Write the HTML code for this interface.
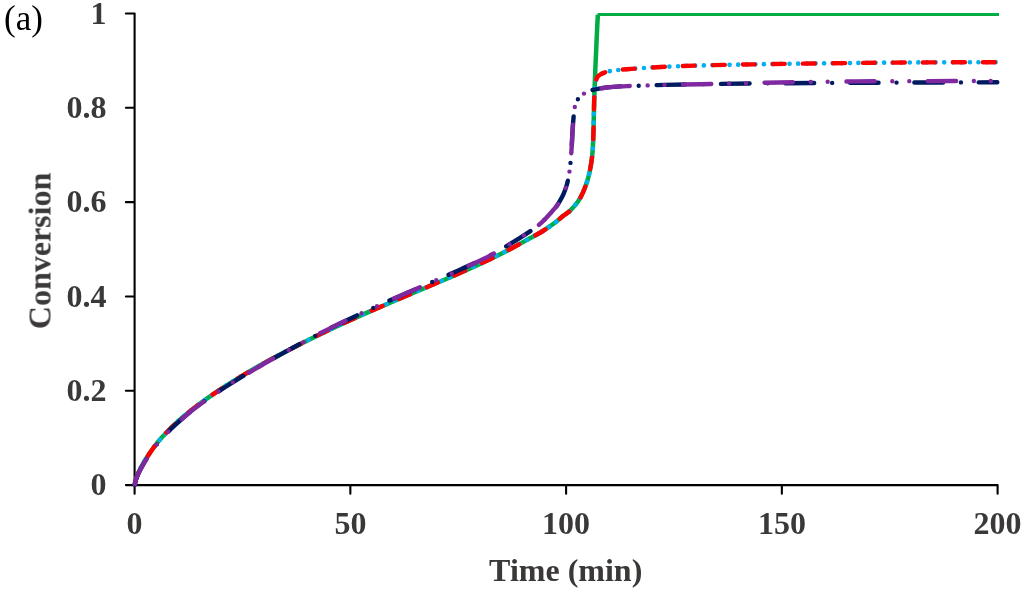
<!DOCTYPE html>
<html><head><meta charset="utf-8"><style>
html,body{margin:0;padding:0;background:#fff;}
body{width:1024px;height:590px;overflow:hidden;}
svg{display:block;}
text{font-family:"Liberation Serif",serif;}
.lab{will-change:transform;font-weight:bold;font-size:32px;fill:#3b3838;}
</style></head><body>
<svg width="1024" height="590" viewBox="0 0 1024 590">
<rect width="1024" height="590" fill="#fff"/>
<text x="4" y="29.5" font-size="35" fill="#000" style="will-change:transform">(a)</text>
<g class="lab"><text x="106.5" y="495.1" text-anchor="end">0</text><text x="106.5" y="400.8" text-anchor="end">0.2</text><text x="106.5" y="306.5" text-anchor="end">0.4</text><text x="106.5" y="212.1" text-anchor="end">0.6</text><text x="106.5" y="117.8" text-anchor="end">0.8</text><text x="106.5" y="23.5" text-anchor="end">1</text><text x="134.6" y="534" text-anchor="middle">0</text><text x="350.4" y="534" text-anchor="middle">50</text><text x="566.1" y="534" text-anchor="middle">100</text><text x="781.9" y="534" text-anchor="middle">150</text><text x="997.6" y="534" text-anchor="middle">200</text>
<text x="565.7" y="581.4" text-anchor="middle">Time (min)</text>
<text transform="translate(50.5,250.9) rotate(-90)" text-anchor="middle">Conversion</text>
</g>
<path d="M125.9,485.10H134.6M125.9,390.78H134.6M125.9,296.46H134.6M125.9,202.14H134.6M125.9,107.82H134.6M125.9,13.50H134.6M134.60,485.1V493.7M350.35,485.1V493.7M566.10,485.1V493.7M781.85,485.1V493.7M997.60,485.1V493.7M134.6,13.5V485.1H997.6" fill="none" stroke="#000" stroke-width="2.1" stroke-linejoin="round" stroke-linecap="round"/>
<g fill="none" stroke-linejoin="round">
<path d="M134.80,485.10 C134.87,484.53 134.91,483.94 135.00,483.40 C135.08,482.89 135.19,482.42 135.30,481.93 C135.42,481.42 135.55,480.92 135.70,480.37 C135.87,479.75 136.07,479.10 136.30,478.41 C136.56,477.62 136.86,476.77 137.20,475.89 C137.58,474.89 138.02,473.82 138.50,472.73 C139.02,471.56 139.57,470.37 140.20,469.11 C140.89,467.71 141.66,466.25 142.50,464.74 C143.42,463.10 144.44,461.35 145.50,459.64 C146.60,457.85 147.78,456.06 149.00,454.24 C150.28,452.33 151.65,450.32 153.00,448.46 C154.31,446.65 155.57,444.98 157.00,443.20 C158.55,441.28 160.23,439.32 162.00,437.35 C163.89,435.24 165.90,433.10 168.00,430.96 C170.22,428.71 172.56,426.43 175.00,424.16 C177.55,421.79 180.23,419.41 183.00,417.04 C185.89,414.58 188.90,412.12 192.00,409.67 C195.22,407.14 198.57,404.61 202.00,402.10 C205.56,399.50 209.23,396.92 213.00,394.35 C216.89,391.69 220.90,389.04 225.00,386.41 C229.23,383.70 233.57,381.00 238.00,378.31 C242.56,375.53 247.24,372.77 252.00,370.02 C256.90,367.20 261.91,364.38 267.00,361.57 C272.23,358.69 277.57,355.82 283.00,352.96 C288.57,350.02 294.24,347.10 300.00,344.19 C305.90,341.22 311.91,338.25 318.00,335.30 C324.24,332.28 330.57,329.28 337.00,326.29 C343.57,323.24 350.24,320.20 357.00,317.17 C363.90,314.08 370.91,311.01 378.00,307.93 C385.24,304.79 392.66,301.63 400.00,298.51 C407.33,295.39 414.59,292.36 422.00,289.22 C429.58,286.01 437.34,282.76 445.00,279.46 C452.68,276.15 460.44,272.80 468.00,269.39 C475.43,266.04 482.87,262.64 490.00,259.20 C496.85,255.90 503.54,252.58 510.00,249.20 C516.19,245.96 522.55,242.34 528.00,239.36 C532.55,236.87 536.81,234.70 540.50,232.50 C543.56,230.68 546.12,228.96 548.70,227.20 C551.09,225.56 553.19,224.09 555.50,222.30 C558.04,220.33 560.82,217.75 563.30,215.80 C565.46,214.10 567.58,212.90 569.50,211.20 C571.42,209.50 573.23,207.43 574.80,205.60 C576.19,203.97 577.38,202.47 578.50,200.80 C579.61,199.14 580.57,197.43 581.50,195.60 C582.48,193.67 583.31,191.72 584.20,189.50 C585.24,186.92 586.39,183.97 587.30,181.00 C588.27,177.83 589.09,174.39 589.80,171.00 C590.52,167.56 591.12,164.01 591.60,160.50 C592.08,157.01 592.41,154.06 592.70,150.00 C593.10,144.40 593.27,137.34 593.50,130.00 C593.78,121.01 593.90,110.00 594.20,100.00 C594.50,90.00 594.92,79.54 595.30,70.00 C595.65,61.29 596.05,52.87 596.40,45.00 C596.71,37.96 597.01,30.59 597.30,25.00 C597.51,20.97 597.70,18.07 597.90,14.60" stroke="#00AD45" stroke-width="4.5"/>
<path d="M597.6,14.5H999" stroke="#00AD45" stroke-width="3.0"/>
<path d="M134.80,485.10 C134.87,484.53 134.91,483.94 135.00,483.40 C135.08,482.89 135.19,482.42 135.30,481.93 C135.42,481.42 135.55,480.92 135.70,480.37 C135.87,479.75 136.07,479.10 136.30,478.41 C136.56,477.62 136.86,476.77 137.20,475.89 C137.58,474.89 138.02,473.82 138.50,472.73 C139.02,471.56 139.57,470.37 140.20,469.11 C140.89,467.71 141.66,466.25 142.50,464.74 C143.42,463.10 144.44,461.35 145.50,459.64 C146.60,457.85 147.78,456.06 149.00,454.24 C150.28,452.33 151.65,450.32 153.00,448.46 C154.31,446.65 155.57,444.98 157.00,443.20 C158.55,441.28 160.23,439.32 162.00,437.35 C163.89,435.24 165.90,433.10 168.00,430.96 C170.22,428.71 172.56,426.43 175.00,424.16 C177.55,421.79 180.23,419.41 183.00,417.04 C185.89,414.58 188.90,412.12 192.00,409.67 C195.22,407.14 198.57,404.61 202.00,402.10 C205.56,399.50 209.23,396.92 213.00,394.35 C216.89,391.69 220.90,389.04 225.00,386.41 C229.23,383.70 233.57,381.00 238.00,378.31 C242.56,375.53 247.24,372.77 252.00,370.02 C256.90,367.20 261.91,364.38 267.00,361.57 C272.23,358.69 277.57,355.82 283.00,352.96 C288.57,350.02 294.24,347.10 300.00,344.19 C305.90,341.22 311.91,338.25 318.00,335.30 C324.24,332.28 330.57,329.28 337.00,326.29 C343.57,323.24 350.24,320.20 357.00,317.17 C363.90,314.08 370.91,311.01 378.00,307.93 C385.24,304.79 392.66,301.63 400.00,298.51 C407.33,295.39 414.59,292.36 422.00,289.22 C429.58,286.01 437.34,282.76 445.00,279.46 C452.68,276.15 460.44,272.80 468.00,269.39 C475.43,266.04 482.87,262.64 490.00,259.20 C496.85,255.90 503.54,252.58 510.00,249.20 C516.19,245.96 522.55,242.34 528.00,239.36 C532.55,236.87 536.81,234.70 540.50,232.50 C543.56,230.68 546.12,228.96 548.70,227.20 C551.09,225.56 553.19,224.09 555.50,222.30 C558.04,220.33 560.82,217.75 563.30,215.80 C565.46,214.10 567.58,212.90 569.50,211.20 C571.42,209.50 573.23,207.43 574.80,205.60 C576.19,203.97 577.38,202.47 578.50,200.80 C579.61,199.14 580.57,197.43 581.50,195.60 C582.48,193.67 583.31,191.72 584.20,189.50 C585.24,186.92 586.39,183.97 587.30,181.00 C588.27,177.83 589.09,174.39 589.80,171.00 C590.52,167.56 591.12,164.01 591.60,160.50 C592.08,157.01 592.41,154.06 592.70,150.00 C593.10,144.40 593.27,137.34 593.50,130.00 C593.78,121.01 593.95,107.94 594.20,100.00 C594.36,94.77 594.36,90.41 594.70,87.00 C594.92,84.77 595.11,83.21 595.60,81.50 C596.06,79.90 596.61,78.23 597.50,77.00 C598.32,75.87 599.39,75.06 600.60,74.30 C601.95,73.46 603.73,72.82 605.30,72.30 C606.80,71.80 608.06,71.54 609.80,71.20 C612.16,70.74 615.16,70.35 618.20,70.00 C621.79,69.59 625.90,69.32 630.00,69.00 C634.47,68.65 638.86,68.33 644.00,68.00 C650.29,67.60 657.11,67.17 665.00,66.80 C675.18,66.32 686.88,65.88 700.00,65.50 C716.84,65.01 735.95,64.67 757.70,64.30 C785.98,63.82 825.16,63.33 855.30,63.00 C881.31,62.72 904.03,62.53 928.00,62.40 C951.45,62.27 974.40,62.27 997.60,62.20" stroke="#00B0F0" stroke-width="4.7" stroke-linecap="round" stroke-dasharray="0 8.578" stroke-dashoffset="7.6"/>
<path d="M134.80,485.10 C134.87,484.53 134.91,483.94 135.00,483.40 C135.08,482.89 135.19,482.42 135.30,481.93 C135.42,481.42 135.55,480.92 135.70,480.37 C135.87,479.75 136.07,479.10 136.30,478.41 C136.56,477.62 136.86,476.77 137.20,475.89 C137.58,474.89 138.02,473.82 138.50,472.73 C139.02,471.56 139.57,470.37 140.20,469.11 C140.89,467.71 141.66,466.25 142.50,464.74 C143.42,463.10 144.44,461.35 145.50,459.64 C146.60,457.85 147.78,456.06 149.00,454.24 C150.28,452.33 151.65,450.32 153.00,448.46 C154.31,446.65 155.57,444.98 157.00,443.20 C158.55,441.28 160.23,439.32 162.00,437.35 C163.89,435.24 165.90,433.10 168.00,430.96 C170.22,428.71 172.56,426.43 175.00,424.16 C177.55,421.79 180.23,419.41 183.00,417.04 C185.89,414.58 188.90,412.12 192.00,409.67 C195.22,407.14 198.57,404.61 202.00,402.10 C205.56,399.50 209.23,396.92 213.00,394.35 C216.89,391.69 220.90,389.04 225.00,386.41 C229.23,383.70 233.57,381.00 238.00,378.31 C242.56,375.53 247.24,372.77 252.00,370.02 C256.90,367.20 261.91,364.38 267.00,361.57 C272.23,358.69 277.57,355.82 283.00,352.96 C288.57,350.02 294.24,347.10 300.00,344.19 C305.90,341.22 311.91,338.25 318.00,335.30 C324.24,332.28 330.57,329.28 337.00,326.29 C343.57,323.24 350.24,320.20 357.00,317.17 C363.90,314.08 370.91,311.01 378.00,307.93 C385.24,304.79 392.66,301.63 400.00,298.51 C407.33,295.39 414.59,292.36 422.00,289.22 C429.58,286.01 437.34,282.76 445.00,279.46 C452.68,276.15 460.44,272.80 468.00,269.39 C475.43,266.04 482.87,262.64 490.00,259.20 C496.85,255.90 503.54,252.58 510.00,249.20 C516.19,245.96 522.55,242.34 528.00,239.36 C532.55,236.87 536.81,234.70 540.50,232.50 C543.56,230.68 546.12,228.96 548.70,227.20 C551.09,225.56 553.19,224.09 555.50,222.30 C558.04,220.33 560.82,217.75 563.30,215.80 C565.46,214.10 567.58,212.90 569.50,211.20 C571.42,209.50 573.23,207.43 574.80,205.60 C576.19,203.97 577.38,202.47 578.50,200.80 C579.61,199.14 580.57,197.43 581.50,195.60 C582.48,193.67 583.31,191.72 584.20,189.50 C585.24,186.92 586.39,183.97 587.30,181.00 C588.27,177.83 589.09,174.39 589.80,171.00 C590.52,167.56 591.12,164.01 591.60,160.50 C592.08,157.01 592.41,154.06 592.70,150.00 C593.10,144.40 593.27,137.34 593.50,130.00 C593.78,121.01 593.95,107.94 594.20,100.00 C594.36,94.77 594.36,90.41 594.70,87.00 C594.92,84.77 595.11,83.21 595.60,81.50 C596.06,79.90 596.61,78.23 597.50,77.00 C598.32,75.87 599.39,75.06 600.60,74.30 C601.95,73.46 603.73,72.82 605.30,72.30 C606.80,71.80 608.06,71.54 609.80,71.20 C612.16,70.74 615.16,70.35 618.20,70.00 C621.79,69.59 625.90,69.32 630.00,69.00 C634.47,68.65 638.86,68.33 644.00,68.00 C650.29,67.60 657.11,67.17 665.00,66.80 C675.18,66.32 686.88,65.88 700.00,65.50 C716.84,65.01 735.95,64.67 757.70,64.30 C785.98,63.82 825.16,63.33 855.30,63.00 C881.31,62.72 904.03,62.53 928.00,62.40 C951.45,62.27 974.40,62.27 997.60,62.20" stroke="#FF0000" stroke-width="4.4" stroke-linecap="round" stroke-dasharray="11.9 18.1" stroke-dashoffset="28.02"/>
<path d="M134.80,485.10 C134.87,484.54 134.91,483.96 135.00,483.43 C135.08,482.93 135.19,482.49 135.30,482.01 C135.42,481.51 135.55,481.03 135.70,480.51 C135.87,479.92 136.07,479.30 136.30,478.64 C136.56,477.89 136.86,477.09 137.20,476.26 C137.58,475.32 138.02,474.32 138.50,473.30 C139.02,472.21 139.58,471.11 140.20,469.91 C140.90,468.56 141.66,467.08 142.50,465.59 C143.42,463.97 144.44,462.24 145.50,460.55 C146.60,458.79 147.78,457.02 149.00,455.22 C150.28,453.33 151.65,451.31 153.00,449.45 C154.31,447.64 155.57,445.97 157.00,444.19 C158.55,442.27 160.23,440.30 162.00,438.32 C163.89,436.22 165.90,434.07 168.00,431.93 C170.22,429.66 172.56,427.38 175.00,425.11 C177.55,422.73 180.23,420.34 183.00,417.97 C185.89,415.50 188.90,413.04 192.00,410.59 C195.22,408.05 198.57,405.52 202.00,403.00 C205.56,400.39 209.23,397.80 213.00,395.22 C216.89,392.55 220.90,389.90 225.00,387.26 C229.23,384.54 233.57,381.83 238.00,379.13 C242.57,376.34 247.25,373.59 252.00,370.78 C256.91,367.89 261.91,364.94 267.00,362.03 C272.23,359.04 277.58,356.08 283.00,353.10 C288.57,350.03 294.24,346.95 300.00,343.88 C305.90,340.72 311.90,337.54 318.00,334.41 C324.23,331.21 330.57,328.02 337.00,324.88 C343.56,321.67 350.24,318.54 357.00,315.38 C363.90,312.16 370.91,308.96 378.00,305.75 C385.24,302.47 392.65,299.13 400.00,295.91 C407.32,292.71 414.59,289.68 422.00,286.47 C429.59,283.20 437.34,279.85 445.00,276.46 C452.68,273.05 460.44,269.59 468.00,266.08 C475.43,262.64 482.20,259.76 490.00,255.60 C499.33,250.62 512.60,242.39 520.00,237.80 C524.43,235.05 527.36,233.12 530.50,231.00 C533.12,229.23 535.27,227.88 537.60,226.00 C540.11,223.98 542.64,221.58 545.00,219.20 C547.37,216.81 549.75,214.00 551.80,211.70 C553.52,209.76 555.12,208.15 556.50,206.30 C557.80,204.55 558.78,202.85 559.90,200.90 C561.15,198.72 562.50,196.30 563.60,193.80 C564.75,191.18 565.77,188.31 566.60,185.50 C567.43,182.71 568.04,179.92 568.60,177.00 C569.19,173.93 569.61,170.75 570.00,167.50 C570.41,164.09 570.71,160.62 571.00,157.00 C571.31,153.14 571.55,149.22 571.80,145.00 C572.08,140.28 572.30,134.72 572.60,130.00 C572.87,125.78 573.15,121.81 573.50,118.00 C573.82,114.51 573.99,110.95 574.60,108.00 C575.10,105.57 575.66,103.46 576.60,101.50 C577.49,99.65 578.64,97.89 580.00,96.50 C581.30,95.18 582.84,94.25 584.50,93.30 C586.31,92.26 588.28,91.34 590.50,90.60 C593.05,89.75 596.09,89.24 599.00,88.70 C602.04,88.13 605.08,87.67 608.40,87.30 C612.10,86.88 616.34,86.62 620.20,86.40 C623.90,86.19 627.12,86.15 631.10,86.00 C635.90,85.82 641.54,85.58 647.00,85.40 C652.81,85.21 658.01,85.07 665.00,84.90 C674.74,84.67 686.88,84.42 700.00,84.20 C716.84,83.91 735.97,83.62 757.70,83.40 C785.92,83.12 824.67,82.95 855.00,82.80 C881.62,82.66 905.68,82.58 930.00,82.50 C953.04,82.42 974.87,82.37 997.30,82.30" stroke="#001A60" stroke-width="4.4" stroke-linecap="round" stroke-dasharray="28.6 18.0 0 17.79" stroke-dashoffset="64.2"/>
<path d="M134.80,485.10 C134.87,484.54 134.91,483.96 135.00,483.43 C135.08,482.93 135.19,482.49 135.30,482.01 C135.42,481.51 135.55,481.03 135.70,480.51 C135.87,479.92 136.07,479.30 136.30,478.64 C136.56,477.89 136.86,477.09 137.20,476.26 C137.58,475.32 138.02,474.32 138.50,473.30 C139.02,472.21 139.58,471.11 140.20,469.91 C140.90,468.56 141.66,467.08 142.50,465.59 C143.42,463.97 144.44,462.24 145.50,460.55 C146.60,458.79 147.78,457.02 149.00,455.22 C150.28,453.33 151.65,451.31 153.00,449.45 C154.31,447.64 155.57,445.97 157.00,444.19 C158.55,442.27 160.23,440.30 162.00,438.32 C163.89,436.22 165.90,434.07 168.00,431.93 C170.22,429.66 172.56,427.38 175.00,425.11 C177.55,422.73 180.23,420.34 183.00,417.97 C185.89,415.50 188.90,413.04 192.00,410.59 C195.22,408.05 198.57,405.52 202.00,403.00 C205.56,400.39 209.23,397.80 213.00,395.22 C216.89,392.55 220.90,389.90 225.00,387.26 C229.23,384.54 233.57,381.83 238.00,379.13 C242.57,376.34 247.25,373.59 252.00,370.78 C256.91,367.89 261.91,364.94 267.00,362.03 C272.23,359.04 277.58,356.08 283.00,353.10 C288.57,350.03 294.24,346.95 300.00,343.88 C305.90,340.72 311.90,337.54 318.00,334.41 C324.23,331.21 330.57,328.02 337.00,324.88 C343.56,321.67 350.24,318.54 357.00,315.38 C363.90,312.16 370.91,308.96 378.00,305.75 C385.24,302.47 392.65,299.13 400.00,295.91 C407.32,292.71 414.59,289.68 422.00,286.47 C429.59,283.20 437.34,279.85 445.00,276.46 C452.68,273.05 460.44,269.59 468.00,266.08 C475.43,262.64 482.20,259.76 490.00,255.60 C499.33,250.62 512.60,242.39 520.00,237.80 C524.43,235.05 527.36,233.12 530.50,231.00 C533.12,229.23 535.27,227.88 537.60,226.00 C540.11,223.98 542.64,221.58 545.00,219.20 C547.37,216.81 549.75,214.00 551.80,211.70 C553.52,209.76 555.12,208.15 556.50,206.30 C557.80,204.55 558.78,202.85 559.90,200.90 C561.15,198.72 562.50,196.30 563.60,193.80 C564.75,191.18 565.77,188.31 566.60,185.50 C567.43,182.71 568.04,179.92 568.60,177.00 C569.19,173.93 569.61,170.75 570.00,167.50 C570.41,164.09 570.71,160.62 571.00,157.00 C571.31,153.14 571.55,149.22 571.80,145.00 C572.08,140.28 572.30,134.72 572.60,130.00 C572.87,125.78 573.15,121.81 573.50,118.00 C573.82,114.51 573.99,110.95 574.60,108.00 C575.10,105.57 575.66,103.46 576.60,101.50 C577.49,99.65 578.64,97.89 580.00,96.50 C581.30,95.18 582.84,94.25 584.50,93.30 C586.31,92.26 588.28,91.34 590.50,90.60 C593.05,89.75 596.09,89.24 599.00,88.70 C602.04,88.13 605.08,87.67 608.40,87.30 C612.10,86.88 616.34,86.62 620.20,86.40 C623.90,86.19 627.12,86.15 631.10,86.00 C635.90,85.82 641.54,85.58 647.00,85.40 C652.81,85.21 658.01,85.07 665.00,84.90 C674.74,84.67 686.88,84.48 700.00,84.20 C716.84,83.84 735.97,83.28 757.70,82.86 C785.92,82.32 824.67,81.69 855.00,81.40 C881.62,81.15 905.68,81.18 930.00,81.10 C953.04,81.02 974.87,80.97 997.30,80.90" stroke="#7F28A0" stroke-width="4.4" stroke-linecap="round" stroke-dasharray="28.3 17.8 0 16.9 0 18.565" stroke-dashoffset="80.83"/>
</g>
</svg>
</body></html>
